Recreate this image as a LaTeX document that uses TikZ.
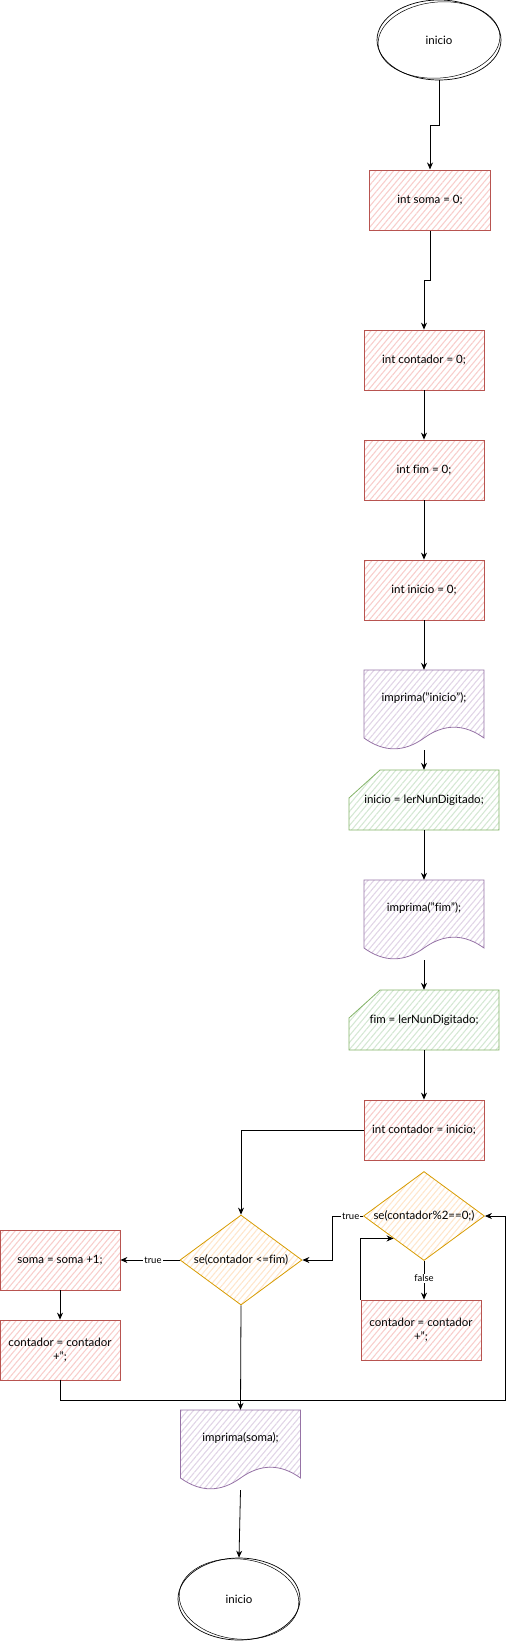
\documentclass[tikz,border=0pt]{standalone}
\usepackage{fontspec}
\setmainfont{Lato}[Ligatures={NoCommon}]
\usetikzlibrary{shapes.geometric,arrows.meta,patterns.meta,calc}
\definecolor{rstroke}{HTML}{B85450}\definecolor{rfill}{HTML}{F8CECC}
\definecolor{pstroke}{HTML}{9673A6}\definecolor{pfill}{HTML}{E1D5E7}
\definecolor{gstroke}{HTML}{82B366}\definecolor{gfill}{HTML}{D5E8D4}
\definecolor{ystroke}{HTML}{D79B00}\definecolor{yfill}{HTML}{FFE6CC}
\tikzset{
  hatch/.style={pattern={Lines[angle=50,distance=4.5pt,line width=1.1pt]},pattern color=#1},
  txt/.style={font=\fontsize{11.5}{13.5}\selectfont, align=center, inner sep=1pt},
  redbox/.style={rectangle, draw=rstroke, line width=0.8pt, hatch=rfill, minimum width=120, minimum height=60, inner sep=1pt, txt},
  docpath/.style={draw=pstroke, line width=0.8pt, hatch=pfill},
  inpath/.style={draw=gstroke, line width=0.8pt, hatch=gfill},
  ghost/.style={rectangle, draw=none, inner sep=0pt},
  decision/.style={diamond, draw=ystroke, line width=0.8pt, hatch=yfill, minimum width=122, minimum height=90, inner sep=0pt},
  term/.style={ellipse, draw=black, line width=0.7pt, minimum width=124, minimum height=80, inner sep=0pt, txt},
  arr/.style={draw=black, line width=0.8pt, -{Stealth[length=7pt,width=6pt]}},
  lbl/.style={font=\fontsize{9.5}{11}\selectfont, fill=white, inner sep=1pt}
}
\newcommand\docnode[4]{%
  \path[docpath] (#2-60,#3-40) -- (#2+60,#3-40) -- (#2+60,#3+28)
    .. controls (#2+40,#3+13.6) and (#2+20,#3+13.6) .. (#2,#3+28)
    .. controls (#2-20,#3+42.4) and (#2-40,#3+42.4) .. (#2-60,#3+28) -- cycle;
  \node[ghost, minimum width=120, minimum height=80] (#1) at (#2,#3) {};
  \node[txt] (#1t) at (#2,#3-12) {#4};
}
\newcommand\innode[4]{%
  \path[inpath] (#2-75,#3-2) -- (#2-44,#3-30) -- (#2+75,#3-30) -- (#2+75,#3+30) -- (#2-75,#3+30) -- cycle;
  \node[ghost, minimum width=150, minimum height=60, txt] (#1) at (#2,#3) {#4};
}
\begin{document}
\begin{tikzpicture}[x=1pt,y=-1pt]
\useasboundingbox (0,0) rectangle (513,1641);
% terminals
\node[term] (start) at (439,40) {inicio};
\draw[line width=0.5pt, rotate around={5:(start.center)}] (start.center) ellipse [x radius=61, y radius=38];
\node[term, minimum width=122, minimum height=82] (end) at (239,1599) {inicio};
\draw[line width=0.5pt, rotate around={-6:(end.center)}] (end.center) ellipse [x radius=60, y radius=40];
% boxes
\node[redbox, minimum width=121] (soma) at (430,200) {int soma = 0;};
\node[redbox] (c0) at (424,360) {int contador = 0;};
\node[redbox] (fim0) at (424,470) {int fim = 0;};
\node[redbox] (ini0) at (424,590) {int inicio = 0;};
\docnode{doc1}{424}{710}{imprima("inicio");}
\innode{in1}{424}{800}{inicio = lerNunDigitado;}
\docnode{doc2}{424}{920}{imprima("fim");}
\innode{in2}{424}{1020}{fim = lerNunDigitado;}
\node[redbox] (ci) at (424,1130) {int contador = inicio;};
\node[decision] (d1) at (241,1260) {};
\node[txt] (d1t) at (241,1260) {se(contador <=fim)};
\node[redbox] (s1) at (60,1260) {soma = soma +1;};
\node[redbox] (c1) at (60,1350) {contador = contador\\+";};
\node[decision, minimum width=121, minimum height=89] (d2) at (424,1216) {};
\node[txt] (d2t) at (424,1216) {se(contador\%2==0;)};
\node[redbox] (c2) at (421,1330) {contador = contador\\+";};
\docnode{p3}{240.5}{1450}{imprima(soma);}
\coordinate (loopR) at (505,1400);
% connectors
\draw[arr] (start.south) -- ++(0,45) -| (soma.north);
\draw[arr] (soma.south) -- ++(0,50) -| (c0.north);
\draw[arr] (c0.south) -- (fim0.north);
\draw[arr] (fim0.south) -- (ini0.north);
\draw[arr] (ini0.south) -- (doc1.north);
\draw[arr] (doc1.south) -- (in1.north);
\draw[arr] (in1.south) -- (doc2.north);
\draw[arr] (doc2.south) -- (in2.north);
\draw[arr] (in2.south) -- (ci.north);
\draw[arr] (ci.west) -| (d1.north);
\draw[arr] (d1.west) -- node[lbl, pos=0.45] (lt1) {true} (s1.east);
\draw[arr] (s1.south) -- (c1.north);
\draw[arr] (c1.south) |- (loopR) |- (d2.east);
\draw[arr] (d1.south) -- (p3.north);
\draw[arr] (d2.west) -- ++(-31,0) node[lbl, pos=0.4] (lt2) {true} |- (d1.east);
\draw[arr] (d2.south) -- node[lbl, pos=0.45] (lf2) {false} (d2.south |- c2.north);
\draw[arr] (c2.north west) |- (d2.south west);
\draw[arr] (p3.south) -- (end.north);
\end{tikzpicture}
\end{document}
